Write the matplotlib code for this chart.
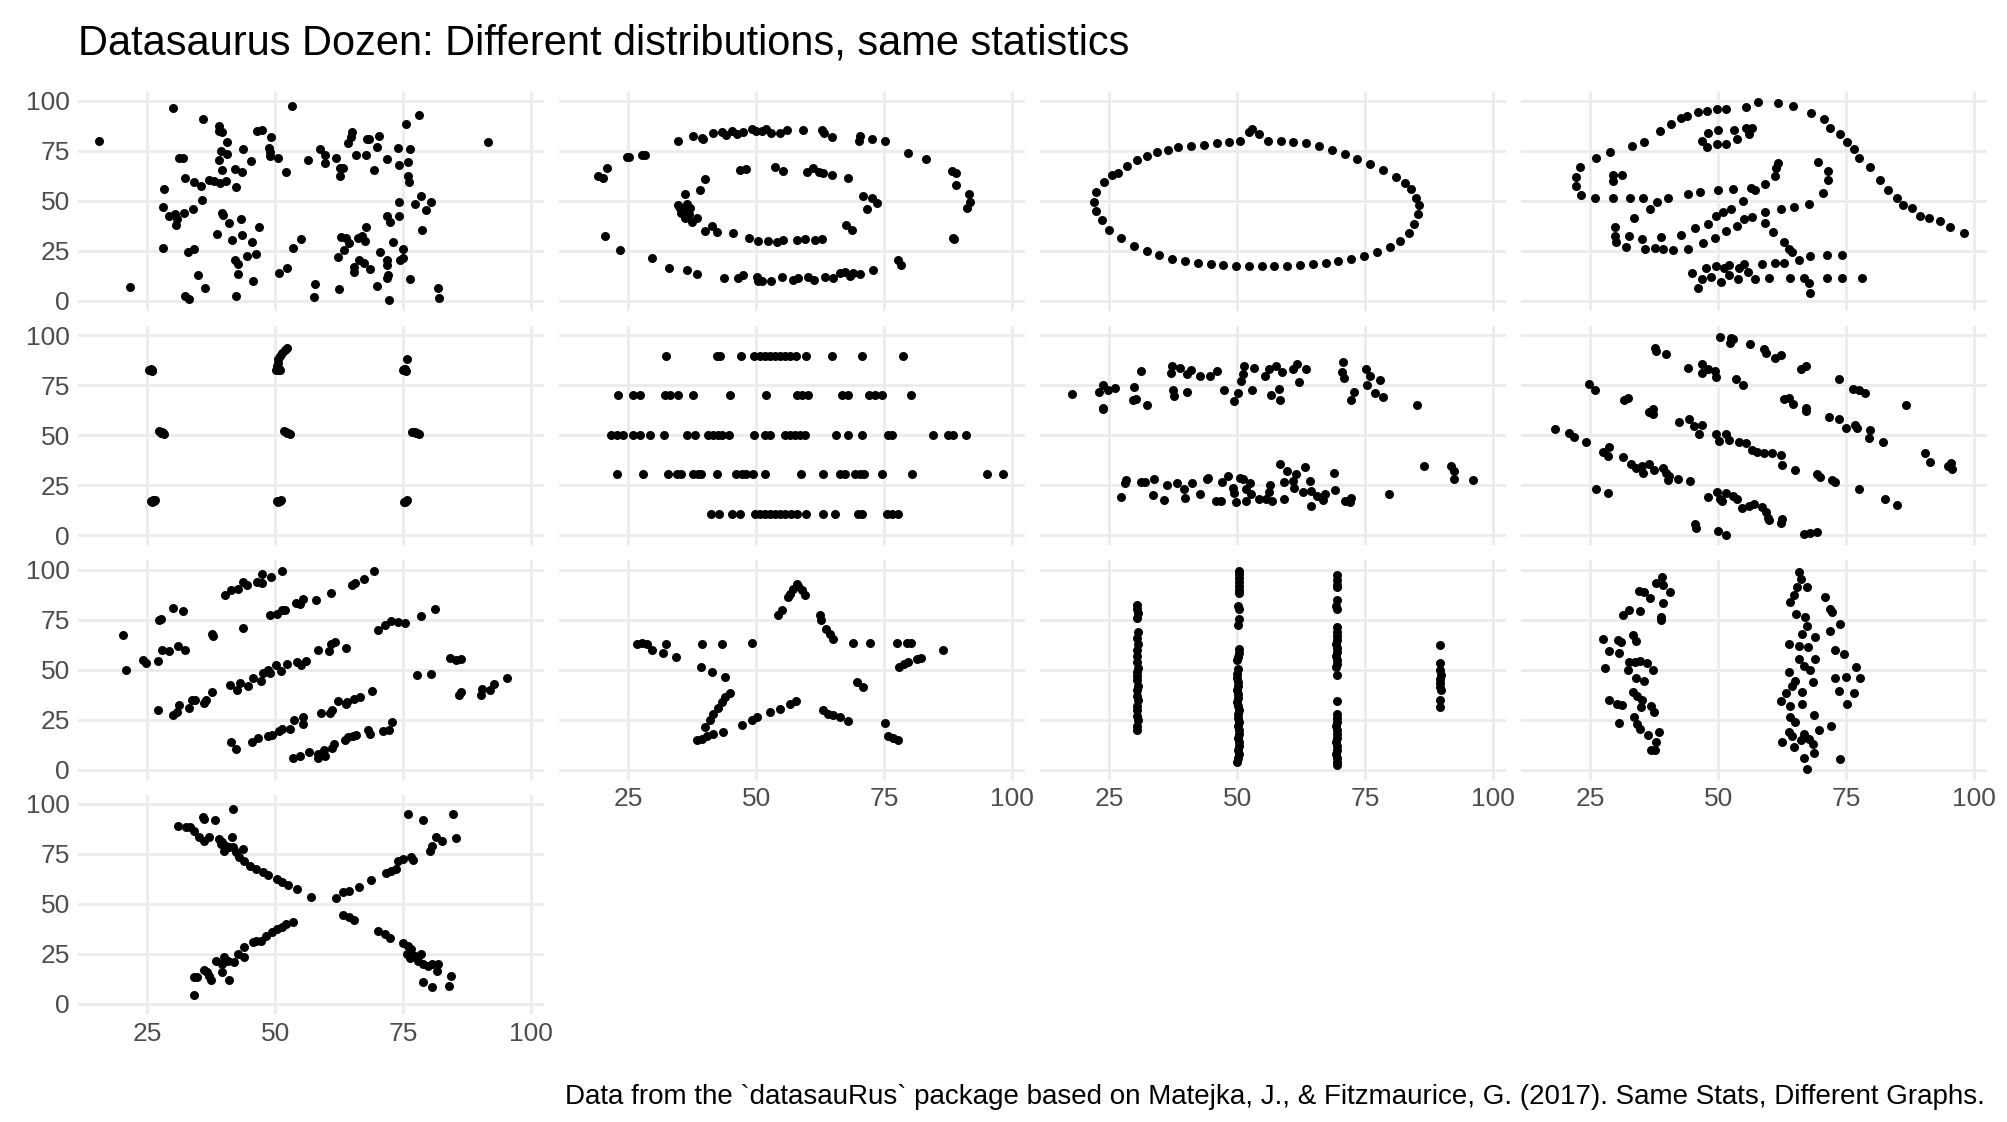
import matplotlib.pyplot as plt

plt.rcParams['font.family'] = ['Liberation Sans', 'DejaVu Sans']

# (x, y) points for each of the thirteen datasets, in facet order
away = [(15.5, 80.0), (21.7, 6.8), (30.0, 96.7), (35.8, 91.2), (39.0, 87.5), (39.1, 85.0), (39.6, 84.3),
        (40.5, 79.3), (39.4, 75.2), (40.6, 73.5), (39.0, 70.5), (39.7, 65.5), (42.1, 66.0), (43.5, 64.3),
        (43.7, 76.2), (45.2, 70.0), (46.4, 85.0), (47.4, 85.3), (49.1, 81.8), (48.8, 76.7), (48.9, 74.7),
        (49.0, 72.7), (50.5, 71.7), (53.2, 97.5), (52.1, 64.5), (56.5, 70.5), (58.8, 76.0), (59.7, 73.2),
        (59.7, 69.2), (61.8, 71.7), (62.7, 66.7), (63.3, 66.3), (62.7, 62.7), (64.3, 78.8), (65.1, 84.7),
        (64.8, 81.8), (65.8, 73.0), (67.7, 72.8), (67.9, 81.0), (68.4, 80.8), (70.3, 82.5), (70.0, 77.0),
        (69.4, 65.5), (71.8, 71.2), (74.1, 76.3), (74.2, 68.0), (76.0, 69.7), (76.3, 76.0), (75.5, 88.3),
        (78.1, 93.0), (76.0, 62.7), (76.2, 59.7), (91.7, 79.3), (28.2, 56.0), (32.3, 61.5), (31.3, 71.7),
        (31.9, 71.7), (34.2, 59.7), (35.6, 57.5), (37.0, 60.5), (38.1, 60.0), (39.2, 59.2), (40.4, 60.0),
        (42.4, 57.0), (35.7, 50.7), (28.0, 46.8), (29.3, 42.3), (30.4, 43.3), (30.9, 41.0), (30.7, 38.0),
        (32.1, 43.8), (33.9, 46.0), (39.6, 44.2), (39.8, 43.0), (40.9, 39.2), (38.6, 33.5), (41.6, 30.5),
        (43.4, 40.8), (43.5, 33.2), (45.4, 29.7), (46.8, 36.8), (46.2, 23.3), (44.5, 22.5), (42.1, 20.5),
        (42.8, 18.3), (42.7, 13.3), (45.6, 10.0), (42.4, 2.7), (28.0, 26.3), (32.9, 24.7), (34.1, 26.0),
        (35.0, 12.8), (36.2, 6.3), (32.3, 2.5), (33.2, 1.0), (50.8, 14.2), (52.4, 16.3), (53.4, 26.5),
        (55.0, 31.0), (57.7, 8.5), (57.5, 2.0), (62.2, 22.2), (62.4, 6.0), (62.9, 32.2), (63.9, 31.3),
        (63.4, 25.5), (64.5, 28.8), (65.5, 14.7), (65.5, 17.2), (66.2, 31.7), (66.9, 32.7), (67.5, 30.0),
        (67.7, 37.2), (66.4, 20.5), (67.4, 18.8), (68.5, 15.8), (70.0, 7.7), (70.4, 24.7), (71.8, 20.5),
        (71.9, 18.0), (72.0, 13.0), (71.8, 11.3), (72.2, 0.5), (71.9, 42.5), (72.5, 39.7), (73.0, 29.7),
        (74.2, 49.3), (74.3, 42.7), (74.5, 20.5), (74.9, 21.3), (74.9, 25.8), (76.3, 10.8), (77.3, 48.5),
        (78.6, 52.7), (79.4, 45.5), (78.8, 35.5), (80.5, 49.7), (81.8, 6.3), (82.1, 1.7)]

bullseye = [(34.7, 80.0), (37.7, 82.7), (39.5, 81.7), (39.7, 80.8), (41.6, 83.8), (43.3, 84.3), (44.1, 83.0),
            (45.2, 85.2), (46.2, 83.7), (47.5, 84.7), (49.1, 85.8), (50.0, 85.0), (51.1, 85.2), (51.9, 86.0),
            (53.0, 83.8), (54.7, 83.8), (56.0, 85.5), (59.1, 85.5), (62.9, 85.5), (63.3, 83.8), (64.9, 82.2),
            (70.3, 82.7), (70.1, 80.2), (72.6, 81.0), (75.2, 80.0), (79.6, 74.0), (83.3, 70.8), (88.2, 65.0),
            (89.1, 64.2), (89.1, 58.0), (91.7, 53.3), (91.8, 49.3), (91.2, 46.7), (88.4, 31.7), (88.6, 30.8),
            (24.7, 71.8), (25.1, 71.8), (27.7, 73.0), (28.3, 73.0), (20.9, 66.3), (19.1, 62.7), (20.1, 61.3),
            (20.4, 32.5), (23.4, 25.7), (29.6, 21.7), (33.0, 16.3), (36.4, 15.5), (38.4, 13.7), (43.7, 11.7),
            (46.5, 11.3), (47.4, 13.0), (50.1, 11.8), (50.4, 10.0), (51.1, 10.0), (53.0, 10.0), (55.0, 11.8),
            (57.3, 10.5), (58.2, 11.7), (60.2, 12.0), (61.4, 10.5), (63.5, 12.0), (65.1, 11.7), (66.4, 13.8),
            (67.4, 14.3), (68.4, 12.7), (69.0, 14.2), (70.3, 13.5), (72.8, 15.5), (77.8, 20.5), (78.3, 18.0),
            (40.0, 60.8), (39.0, 55.5), (36.0, 53.3), (34.8, 48.0), (36.4, 48.3), (37.1, 46.3), (35.4, 43.8),
            (36.1, 41.3), (37.4, 39.7), (38.4, 41.7), (35.8, 45.5), (36.8, 43.5), (35.2, 46.5), (40.0, 35.0),
            (41.4, 37.5), (42.3, 34.7), (45.4, 34.2), (48.7, 31.3), (50.4, 30.0), (52.4, 30.0), (54.0, 29.7),
            (55.3, 30.5), (57.9, 30.5), (59.5, 31.0), (61.5, 30.5), (62.8, 30.8), (67.6, 38.0), (68.7, 35.5),
            (71.6, 46.0), (70.8, 52.7), (72.6, 51.3), (73.6, 48.8), (46.8, 65.5), (48.1, 66.0), (53.7, 66.8),
            (55.3, 65.2), (59.9, 64.7), (61.2, 66.3), (62.2, 64.7), (63.1, 64.2), (64.9, 63.0), (67.9, 61.3)]

circle = [(26.8, 64.1), (28.5, 67.3), (30.5, 70.5), (32.3, 72.4), (34.3, 74.4), (36.5, 75.6), (38.5, 76.9),
          (41.0, 77.6), (43.5, 78.2), (46.0, 78.8), (48.5, 79.5), (50.5, 80.1), (52.3, 84.6), (53.0, 85.9),
          (54.3, 83.3), (56.0, 80.1), (58.5, 80.1), (61.0, 79.5), (63.5, 78.8), (66.0, 77.6), (68.5, 75.6),
          (71.0, 73.7), (73.5, 71.2), (76.0, 68.6), (78.5, 65.4), (81.0, 62.2), (82.8, 59.0), (84.0, 55.8),
          (85.0, 51.3), (85.5, 48.1), (85.3, 43.6), (84.5, 38.5), (83.5, 34.0), (81.8, 30.1), (79.8, 26.9),
          (77.3, 24.4), (74.8, 22.4), (72.3, 21.2), (69.8, 19.9), (67.3, 19.2), (64.8, 18.6), (62.3, 17.9),
          (59.8, 17.3), (57.3, 17.3), (54.8, 17.3), (52.3, 17.3), (49.8, 17.3), (47.3, 17.9), (44.8, 18.6),
          (42.3, 19.2), (39.8, 19.9), (37.3, 21.2), (34.8, 23.1), (32.3, 25.0), (29.8, 27.6), (27.3, 31.4),
          (25.0, 35.3), (23.5, 40.4), (22.5, 44.9), (22.0, 49.4), (22.5, 54.5), (24.0, 59.6), (25.5, 62.8)]

dino = [(23.0, 66.8), (22.2, 62.2), (22.2, 57.7), (23.2, 53.0), (26.0, 51.3), (29.4, 51.3), (32.7, 51.3),
        (35.3, 51.7), (38.1, 49.3), (36.7, 45.8), (33.6, 41.7), (29.9, 37.2), (29.9, 32.7), (30.0, 29.7),
        (32.0, 26.8), (32.6, 32.7), (35.1, 30.8), (35.7, 25.8), (37.7, 26.3), (39.3, 25.8), (41.1, 25.5),
        (38.8, 31.8), (42.7, 33.0), (44.1, 26.0), (40.2, 51.7), (44.1, 53.3), (46.5, 54.7), (49.9, 55.5),
        (53.0, 55.8), (56.5, 56.7), (57.3, 55.5), (59.1, 58.3), (61.2, 62.5), (61.4, 66.3), (61.7, 69.2),
        (26.1, 71.7), (28.9, 74.7), (33.1, 77.7), (35.5, 79.7), (38.7, 85.0), (40.7, 88.3), (42.7, 91.3),
        (44.0, 92.7), (46.1, 94.3), (47.9, 95.0), (49.8, 96.0), (51.5, 96.0), (55.4, 97.2), (57.8, 99.7),
        (61.7, 99.2), (64.7, 97.5), (68.2, 94.0), (70.6, 90.8), (71.9, 86.3), (73.8, 83.3), (75.1, 79.3),
        (76.6, 75.8), (77.6, 71.7), (79.6, 66.8), (81.6, 60.5), (83.2, 55.5), (85.0, 51.3), (86.2, 48.0),
        (87.9, 46.3), (89.5, 42.7), (91.2, 41.7), (93.3, 40.0), (95.3, 37.2), (98.1, 34.2), (29.5, 63.0),
        (31.3, 63.0), (29.5, 60.0), (46.8, 80.0), (47.9, 77.2), (48.1, 84.2), (50.0, 85.5), (49.8, 78.5),
        (51.5, 78.5), (53.1, 85.5), (53.7, 81.0), (55.4, 86.3), (56.7, 86.3), (56.0, 83.3), (69.5, 69.7),
        (71.5, 65.0), (71.5, 60.5), (70.4, 53.8), (67.8, 48.3), (64.8, 46.8), (62.2, 46.0), (59.1, 44.7),
        (56.7, 42.2), (55.0, 41.0), (53.6, 37.7), (51.5, 35.2), (49.4, 31.7), (47.1, 29.2), (54.9, 50.0),
        (52.6, 46.0), (50.9, 44.7), (49.5, 42.5), (48.1, 38.5), (45.4, 36.3), (59.1, 39.2), (60.7, 34.3),
        (62.8, 29.7), (63.8, 26.0), (64.5, 24.7), (65.8, 20.5), (67.9, 22.7), (71.2, 23.0), (74.2, 23.0),
        (62.8, 19.2), (61.2, 19.2), (58.6, 18.3), (55.0, 18.5), (54.1, 16.7), (52.1, 18.0), (51.1, 16.7),
        (49.5, 17.7), (47.6, 16.7), (44.8, 14.2), (46.9, 11.0), (48.7, 12.2), (50.5, 9.7), (52.1, 13.0),
        (53.8, 10.8), (55.9, 14.3), (57.3, 10.8), (59.9, 11.3), (64.1, 11.3), (66.7, 11.3), (67.7, 8.8),
        (68.0, 3.8), (71.3, 11.3), (74.2, 11.3), (78.1, 11.3), (46.1, 6.3)]

dots = [(25.4, 82.8), (25.6, 82.5), (25.9, 82.6), (26.0, 82.3), (25.7, 83.0),
        (27.2, 52.0), (27.6, 51.4), (28.0, 51.0), (28.3, 50.5), (27.9, 51.6),
        (25.8, 17.0), (26.2, 17.4), (26.6, 17.6), (26.0, 16.8), (26.4, 17.2),
        (50.2, 82.8), (50.6, 82.6), (51.0, 82.9), (50.3, 84.5), (50.5, 86.2), (50.6, 88.0),
        (51.0, 89.5), (51.4, 91.0), (51.9, 92.5), (52.3, 93.8), (50.8, 83.3),
        (51.8, 52.0), (52.2, 51.6), (52.6, 51.0), (53.0, 50.5), (52.4, 51.3),
        (50.4, 17.0), (50.8, 17.3), (51.2, 17.4), (50.6, 16.8), (51.0, 17.1),
        (75.0, 82.6), (75.4, 83.0), (75.6, 82.4), (75.8, 88.4), (75.2, 83.4),
        (76.8, 51.8), (77.3, 51.8), (77.8, 51.4), (78.2, 50.6), (77.6, 51.2),
        (75.1, 16.6), (75.5, 17.2), (75.8, 17.4), (75.3, 16.4), (75.6, 16.9)]

h_lines = [(32.4, 89.7), (42.3, 89.7), (42.9, 89.7), (47.0, 89.7), (49.6, 89.7), (50.7, 89.7), (51.7, 89.7),
           (52.7, 89.7), (53.7, 89.7), (54.6, 89.7), (55.6, 89.7), (56.6, 89.7), (57.7, 89.7), (59.7, 89.7),
           (64.8, 89.7), (70.6, 89.7), (78.8, 89.7),
           (22.9, 70.0), (26.0, 70.0), (27.2, 70.0), (32.2, 70.0), (33.2, 70.0), (34.8, 70.0), (37.7, 70.0),
           (44.9, 70.0), (51.9, 70.0), (57.9, 70.0), (58.9, 70.0), (60.2, 70.0), (66.7, 70.0), (68.0, 70.0),
           (72.1, 70.0), (73.2, 70.0), (74.7, 70.0), (80.3, 70.0),
           (21.7, 50.0), (22.7, 50.0), (24.0, 50.0), (26.0, 50.0), (27.2, 50.0), (29.2, 50.0), (32.0, 50.0),
           (36.4, 50.0), (38.0, 50.0), (40.6, 50.0), (41.6, 50.0), (42.6, 50.0), (43.4, 50.0), (44.6, 50.0),
           (49.6, 50.0), (51.8, 50.0), (52.7, 50.0), (55.6, 50.0), (56.6, 50.0), (57.6, 50.0), (58.6, 50.0),
           (59.6, 50.0), (65.7, 50.0), (68.0, 50.0), (70.6, 50.0), (75.8, 50.0), (76.5, 50.0), (84.6, 50.0),
           (87.6, 50.0), (88.5, 50.0), (91.0, 50.0),
           (22.7, 30.5), (27.9, 30.5), (32.8, 30.5), (34.5, 30.5), (35.4, 30.5), (37.6, 30.5), (38.7, 30.5),
           (39.3, 30.5), (42.3, 30.5), (46.1, 30.5), (47.2, 30.5), (48.1, 30.5), (49.4, 30.5), (51.7, 30.5),
           (58.8, 30.5), (63.0, 30.5), (66.4, 30.5), (67.4, 30.5), (69.3, 30.5), (70.3, 30.5), (71.0, 30.5),
           (74.7, 30.5), (80.4, 30.5), (95.2, 30.5), (98.3, 30.5),
           (41.2, 10.5), (42.7, 10.5), (45.2, 10.5), (46.8, 10.5), (49.8, 10.5), (50.8, 10.5), (51.7, 10.5),
           (52.7, 10.5), (53.7, 10.5), (54.7, 10.5), (55.6, 10.5), (56.9, 10.5), (57.9, 10.5), (59.7, 10.5),
           (63.1, 10.5), (65.4, 10.5), (70.0, 10.5), (70.6, 10.5), (75.5, 10.5), (76.5, 10.5), (77.8, 10.5)]

high_lines = [(17.8, 70.5), (23.0, 71.7), (23.8, 75.0), (24.8, 72.7), (26.1, 73.8), (23.8, 63.8), (23.8, 63.0),
              (29.8, 74.2), (29.6, 67.5), (30.2, 68.0), (32.3, 65.2), (31.2, 82.2), (37.2, 84.7), (37.0, 81.3),
              (38.8, 83.5), (40.1, 80.5), (40.9, 82.5), (37.4, 72.5), (37.6, 69.7), (40.1, 71.7), (42.8, 79.7),
              (44.7, 79.7), (46.0, 82.2), (47.4, 72.5), (49.3, 67.2), (50.2, 71.0), (52.9, 72.5), (51.4, 84.7),
              (50.8, 77.2), (51.2, 80.5), (53.3, 83.8), (55.4, 79.7), (56.3, 83.0), (57.6, 84.7), (58.7, 81.7),
              (56.6, 70.0), (58.2, 73.0), (58.3, 67.7), (60.9, 83.0), (61.7, 85.5), (62.1, 76.7), (63.5, 83.0),
              (70.7, 86.7), (70.4, 81.8), (70.8, 78.8), (72.8, 71.8), (72.3, 67.5), (75.1, 83.3), (75.9, 79.7),
              (75.4, 75.2), (78.0, 77.5), (76.9, 71.0), (78.5, 69.3), (85.2, 65.0),
              (28.2, 27.7), (28.1, 26.3), (27.3, 19.2), (31.2, 26.7), (32.0, 26.7), (33.7, 28.3), (33.6, 20.0),
              (35.7, 17.5), (36.3, 25.2), (38.2, 26.3), (39.6, 23.0), (39.8, 18.5), (41.2, 26.3), (42.8, 20.5),
              (44.1, 28.3), (44.3, 28.8), (45.8, 17.2), (46.9, 17.2), (47.1, 26.8), (48.2, 29.7), (49.1, 23.5),
              (49.3, 21.3), (49.7, 16.7), (50.5, 28.8), (51.2, 28.0), (51.7, 23.0), (51.8, 17.2), (52.5, 26.3),
              (52.8, 20.5), (54.3, 18.3), (55.7, 18.0), (56.5, 25.2), (56.9, 17.2), (56.3, 21.7), (58.3, 35.5),
              (59.8, 32.2), (59.1, 26.7), (60.9, 27.2), (61.6, 30.5), (61.1, 23.8), (63.2, 34.2), (62.9, 21.7),
              (64.2, 27.2), (64.5, 22.2), (64.5, 14.7), (65.6, 19.7), (66.8, 17.5), (67.1, 20.5), (59.1, 18.0),
              (68.9, 31.3), (69.2, 22.7), (71.0, 17.2), (72.3, 18.8), (72.1, 16.7), (79.7, 20.5), (86.5, 34.7),
              (91.9, 34.7), (92.4, 32.2), (92.4, 28.0), (96.1, 27.7)]

slant_down = [(50.3, 99.3), (52.6, 98.8), (52.4, 96.3), (52.9, 98.0), (56.3, 95.8), (58.9, 93.0), (59.3, 91.0),
              (61.2, 88.8), (62.2, 90.2), (66.1, 83.3), (67.1, 84.7), (73.6, 78.0), (76.3, 73.0), (77.5, 72.5),
              (78.8, 71.3), (86.7, 65.0),
              (37.7, 93.8), (37.8, 92.2), (39.9, 90.5), (44.1, 83.5), (46.8, 85.5), (46.8, 81.3), (48.1, 83.0),
              (49.4, 82.2), (49.5, 79.3), (53.4, 78.3), (54.8, 75.0), (62.8, 68.0), (63.9, 68.5), (64.6, 65.5),
              (67.1, 63.8), (67.2, 62.2), (71.7, 59.2), (73.7, 58.3), (75.0, 53.8), (76.8, 55.0), (77.1, 53.8),
              (79.6, 52.7), (79.4, 48.8), (82.2, 46.7), (90.5, 41.3), (91.5, 36.7), (94.9, 34.7), (95.5, 36.3),
              (95.7, 33.0),
              (24.8, 75.8), (26.0, 72.7), (31.6, 67.7), (32.3, 68.8), (36.4, 61.8), (37.3, 63.3), (37.2, 60.5),
              (42.4, 56.7), (44.3, 58.0), (45.3, 54.7), (46.8, 55.0), (46.3, 50.5), (49.5, 50.5), (50.2, 47.2),
              (51.5, 50.5), (52.1, 47.7), (54.1, 46.7), (55.4, 46.0), (56.7, 42.5), (57.6, 41.7), (58.9, 41.0),
              (60.6, 41.3), (62.2, 40.0), (62.4, 35.2), (65.1, 32.7), (69.3, 30.5), (70.0, 29.3), (72.3, 27.7),
              (72.8, 26.7),
              (18.2, 53.3), (20.8, 51.3), (21.9, 49.3), (24.2, 46.8), (27.4, 41.8), (28.6, 44.2), (28.4, 39.7),
              (31.4, 39.3), (32.9, 35.8), (34.0, 33.8), (35.2, 34.7), (35.3, 31.3), (36.5, 35.8), (37.5, 32.7),
              (39.2, 33.8), (39.8, 31.3), (40.1, 27.5), (40.4, 29.7), (42.2, 28.3), (44.4, 27.0), (77.6, 23.3),
              (82.7, 18.3), (84.9, 15.0),
              (26.1, 23.0), (28.4, 21.3), (48.1, 19.3), (49.8, 21.7), (50.3, 18.3), (50.8, 17.2), (51.5, 21.0),
              (52.9, 19.7), (53.7, 18.0), (54.7, 13.8), (56.0, 14.7), (57.0, 15.5), (58.6, 14.3), (59.3, 11.7),
              (59.8, 8.8), (60.0, 7.7), (62.4, 8.0), (62.2, 6.3), (45.4, 5.5), (45.6, 3.8), (50.0, 2.2),
              (51.5, 0.0), (66.7, 0.5), (68.0, 1.3), (69.3, 1.7)]

slant_up = [(40.1, 87.2), (41.4, 90.0), (42.7, 90.2), (43.7, 93.8), (44.5, 92.5), (46.4, 93.8), (47.4, 93.5),
            (47.4, 98.0), (49.1, 96.3), (51.3, 99.2),
            (20.2, 67.2), (20.9, 49.7), (24.2, 54.7), (24.7, 53.3), (27.1, 54.3), (27.8, 60.0), (29.2, 59.3),
            (30.0, 81.0), (31.0, 61.7), (31.9, 79.3), (32.3, 59.7), (27.2, 74.7), (27.6, 75.5), (37.6, 68.0),
            (37.8, 66.7), (43.7, 71.0), (49.0, 77.2), (50.3, 77.7), (51.3, 79.7), (52.0, 80.0), (54.0, 83.3),
            (54.8, 82.7), (55.5, 85.5), (57.9, 85.0), (61.0, 88.3), (65.1, 92.2), (65.7, 93.3), (67.4, 95.5),
            (69.3, 99.3),
            (27.1, 29.7), (30.0, 27.2), (30.8, 28.8), (31.3, 32.2), (33.1, 31.0), (33.8, 34.7), (34.3, 34.7),
            (36.1, 33.3), (36.4, 35.0), (37.6, 38.8), (41.1, 42.2), (42.6, 40.0), (43.2, 43.5), (44.7, 41.7),
            (45.7, 46.0), (47.2, 44.2), (47.6, 48.3), (48.7, 49.7), (49.0, 48.3), (50.1, 52.2), (51.1, 49.3),
            (52.3, 52.7), (54.3, 53.8), (55.0, 52.2), (56.0, 54.3), (58.3, 60.0), (60.6, 59.3), (60.9, 63.0),
            (61.7, 63.8), (63.8, 60.8), (70.2, 70.0), (71.5, 72.5), (72.6, 74.3), (74.1, 73.8), (75.3, 73.5),
            (78.6, 76.7), (81.3, 80.5),
            (77.8, 47.2), (80.4, 47.7), (84.1, 56.0), (85.4, 55.0), (86.4, 55.5), (85.9, 37.2), (86.4, 38.8),
            (90.3, 37.5), (90.5, 40.5), (92.0, 39.7), (92.7, 43.0), (95.3, 45.8),
            (41.4, 13.8), (42.4, 10.5), (45.4, 13.8), (46.7, 15.8), (48.7, 16.7), (49.3, 17.2), (50.7, 19.2),
            (51.3, 20.2), (53.0, 20.5), (53.6, 24.7), (55.5, 26.3), (55.5, 22.7), (58.9, 28.3), (60.8, 28.3),
            (61.2, 29.7), (62.2, 34.3), (63.9, 32.7), (64.1, 33.8), (65.5, 35.2), (66.5, 36.3), (68.9, 39.3),
            (53.5, 5.8), (54.8, 6.7), (56.6, 8.8), (58.3, 5.8), (58.3, 8.0), (59.3, 7.2), (59.6, 10.0),
            (59.8, 6.7), (61.2, 11.0), (61.6, 13.0), (63.7, 14.7), (64.2, 16.3), (65.2, 16.7), (65.9, 17.2),
            (68.2, 20.0), (68.5, 18.0), (71.0, 19.3), (72.2, 20.0), (72.8, 23.8)]

star = [(57.9, 92.7), (58.2, 91.8), (57.3, 90.5), (56.6, 88.0), (56.3, 86.3), (59.6, 87.2), (58.9, 89.7),
        (55.1, 79.7), (54.3, 77.5), (62.4, 77.5), (62.6, 74.7), (63.7, 70.5), (64.5, 67.7), (65.0, 65.5),
        (69.0, 63.3), (72.3, 63.3), (77.5, 63.3), (79.4, 63.3), (80.2, 63.3), (86.6, 59.7), (82.2, 56.0),
        (81.4, 55.5), (79.6, 53.8), (78.9, 52.7), (78.0, 51.3), (69.7, 43.8), (70.9, 41.3), (75.2, 23.5),
        (75.8, 16.7), (76.8, 16.0), (77.8, 15.0), (63.0, 30.0), (64.1, 28.0), (65.1, 27.2), (66.4, 26.3),
        (68.0, 24.3), (57.8, 34.2), (56.6, 32.7), (54.7, 30.5), (52.8, 28.8), (50.1, 26.3), (49.1, 25.0),
        (47.2, 22.2), (38.4, 14.7), (39.4, 15.5), (40.3, 16.7), (41.6, 18.0), (43.6, 18.8), (40.0, 21.3),
        (41.0, 24.7), (41.6, 27.7), (42.6, 31.0), (43.3, 33.8), (43.9, 36.3), (44.9, 38.3), (44.0, 46.3),
        (41.4, 48.8), (39.3, 51.3), (26.8, 63.0), (27.6, 63.3), (28.6, 62.7), (29.6, 60.0), (31.7, 58.3),
        (32.4, 63.0), (34.3, 56.3), (39.5, 62.7), (43.3, 63.0), (49.1, 63.5)]

v_lines = [(30.5, 82.2), (30.5, 80.5), (30.6, 78.3), (30.5, 76.0), (30.6, 68.8), (30.5, 66.0), (30.6, 63.0),
           (30.5, 60.0), (30.4, 57.0), (30.5, 54.0), (30.6, 51.0), (30.5, 49.0), (30.4, 47.0), (30.5, 45.0),
           (30.6, 42.0), (30.5, 40.0), (30.5, 37.0), (30.6, 35.0), (30.5, 32.0), (30.4, 30.0), (30.5, 27.0),
           (30.6, 25.0), (30.5, 22.0), (30.5, 19.7),
           (50.3, 99.5), (50.4, 98.0), (50.3, 96.0), (50.4, 94.0), (50.3, 92.0), (50.4, 90.0), (50.3, 88.5),
           (50.2, 82.0), (50.3, 80.5), (50.3, 75.5), (50.2, 72.2), (50.4, 60.5), (50.3, 58.5), (50.1, 56.5),
           (50.0, 54.7), (50.2, 50.5), (50.0, 48.0), (49.9, 46.0), (50.1, 44.0), (50.2, 42.0), (50.0, 40.0),
           (50.1, 38.0), (50.2, 36.0), (50.0, 34.0), (50.1, 32.0), (50.3, 30.0), (50.2, 28.0), (50.1, 26.0),
           (50.3, 24.0), (50.2, 22.0), (50.4, 20.0), (50.3, 18.0), (50.2, 16.0), (50.4, 14.0), (50.3, 12.0),
           (50.2, 10.0), (50.3, 8.0), (50.1, 6.0), (50.0, 3.8),
           (69.5, 97.2), (69.6, 95.0), (69.5, 92.5), (69.6, 91.3), (69.5, 84.7), (69.4, 82.0), (69.5, 80.5),
           (69.6, 71.3), (69.5, 69.0), (69.6, 67.0), (69.5, 65.0), (69.4, 63.0), (69.6, 61.0), (69.5, 59.0),
           (69.4, 57.0), (69.6, 55.0), (69.5, 53.0), (69.4, 51.3), (69.5, 47.2), (69.6, 34.2), (69.5, 28.0),
           (69.6, 26.0), (69.5, 24.0), (69.4, 22.0), (69.5, 20.0), (69.6, 18.0), (69.5, 16.0), (69.4, 14.0),
           (69.6, 12.0), (69.5, 10.0), (69.4, 8.0), (69.6, 6.0), (69.5, 4.0), (69.6, 2.2),
           (89.7, 62.2), (89.6, 53.3), (89.7, 49.7), (89.8, 47.5), (89.7, 45.5), (89.6, 43.5), (89.7, 41.5),
           (89.8, 39.7), (89.7, 34.7), (89.7, 31.3)]

wide_lines = [(39.0, 96.3), (37.8, 93.3), (39.2, 92.2), (40.6, 88.8), (34.6, 89.3), (35.5, 88.8), (36.6, 85.8),
              (39.2, 83.3), (32.5, 80.0), (31.4, 77.2), (34.7, 79.3), (38.8, 76.3), (38.8, 74.7), (27.4, 65.5),
              (30.5, 65.0), (31.0, 63.8), (33.3, 67.2), (33.9, 64.2), (28.7, 59.3), (30.7, 58.5), (27.9, 51.0),
              (32.6, 53.8), (32.3, 50.0), (33.8, 53.8), (34.8, 54.3), (36.0, 53.3), (37.2, 49.7), (33.9, 46.0),
              (35.5, 44.3), (33.3, 38.8), (34.2, 36.7), (35.1, 34.7), (34.9, 31.3), (36.8, 31.7), (37.5, 28.8),
              (28.6, 34.7), (30.3, 32.7), (31.3, 32.2), (33.6, 26.3), (34.2, 23.0), (34.7, 20.5), (30.7, 23.3),
              (36.2, 17.2), (38.5, 18.8), (37.8, 13.8), (36.8, 9.7), (37.7, 9.7),
              (65.8, 98.8), (66.1, 95.5), (65.4, 91.3), (67.4, 91.3), (64.8, 87.2), (64.1, 83.8), (70.8, 86.3),
              (71.9, 80.5), (72.3, 78.8), (65.2, 77.7), (66.9, 76.3), (67.3, 71.7), (73.9, 72.7), (71.9, 69.3),
              (66.4, 67.7), (68.9, 66.3), (63.8, 63.0), (65.8, 61.7), (67.6, 61.3), (72.9, 59.7), (74.7, 57.7),
              (65.8, 55.5), (69.0, 55.2), (66.7, 51.7), (68.0, 50.0), (63.8, 48.8), (77.0, 51.3), (72.9, 46.0),
              (74.9, 46.3), (77.8, 46.0), (65.1, 44.3), (68.5, 43.8), (64.5, 41.7), (63.2, 38.3), (66.3, 38.8),
              (73.6, 39.3), (76.5, 38.3), (75.2, 33.0), (62.2, 34.2), (64.1, 31.7), (66.3, 33.0), (68.7, 27.2),
              (64.1, 26.3), (65.1, 23.8), (72.1, 21.8), (69.7, 20.0), (63.8, 18.8), (66.7, 18.0), (62.5, 13.8),
              (64.8, 11.3), (67.7, 15.5), (68.5, 13.0), (66.7, 6.0), (68.7, 8.5), (73.9, 5.5), (67.3, 0.5),
              (66.1, 14.7), (64.5, 16.7)]

x_shape = [(31.0, 89.2), (32.5, 88.3), (33.4, 88.3), (34.1, 86.7), (35.1, 83.3), (36.1, 81.7), (37.1, 83.3),
           (39.1, 82.5), (39.7, 80.8), (40.4, 79.2), (41.0, 78.3), (41.7, 78.3), (42.3, 75.8), (43.0, 73.3),
           (44.0, 71.7), (45.0, 69.2), (46.3, 67.5), (47.6, 65.8), (48.6, 64.7), (50.3, 62.5), (51.3, 60.8),
           (52.6, 59.7), (54.2, 57.5), (57.0, 53.7), (35.8, 93.7), (36.1, 92.5), (38.3, 92.2), (41.7, 97.5),
           (41.6, 83.7), (43.7, 77.5), (39.4, 80.0), (40.0, 76.7),
           (61.8, 52.8), (63.3, 44.7), (64.4, 43.3), (65.4, 42.0), (70.1, 36.3), (71.4, 35.0), (72.4, 33.0),
           (75.0, 30.3), (76.0, 29.2), (76.6, 27.5), (75.7, 25.0), (76.3, 23.0), (77.3, 24.2), (78.6, 25.0),
           (78.0, 21.7), (79.0, 20.0), (79.9, 19.2), (80.6, 20.0), (81.6, 16.3), (81.9, 20.0), (79.0, 10.8),
           (80.6, 8.3), (83.9, 8.8), (84.4, 14.2),
           (63.3, 55.8), (64.4, 56.7), (66.4, 58.7), (68.7, 62.0), (71.7, 65.3), (72.7, 66.3), (73.7, 67.5),
           (74.0, 71.7), (75.0, 72.5), (77.0, 72.0), (76.6, 73.3), (80.3, 76.7), (80.6, 79.2), (81.4, 83.7),
           (82.6, 81.7), (76.0, 95.0), (79.0, 92.2), (84.7, 95.0), (85.4, 83.0),
           (34.1, 4.5), (34.1, 13.3), (34.8, 13.7), (36.1, 17.0), (36.7, 15.8), (37.1, 14.2), (37.4, 12.0),
           (38.4, 21.7), (39.7, 20.0), (39.7, 15.8), (40.0, 23.3), (40.7, 21.7), (40.9, 12.2), (42.0, 20.8),
           (42.7, 25.0), (44.0, 23.3), (44.0, 28.3), (45.6, 30.8), (46.3, 31.3), (47.3, 31.7), (48.3, 34.2),
           (49.3, 35.8), (50.3, 37.5), (51.3, 38.7), (52.2, 40.0), (53.4, 40.8)]

panels = [away, bullseye, circle, dino, dots, h_lines, high_lines, slant_down,
          slant_up, star, v_lines, wide_lines, x_shape]

x_ticks = [25, 50, 75, 100]
y_ticks = [0, 25, 50, 75, 100]

title = "Datasaurus Dozen: Different distributions, same statistics"
caption = ("Data from the `datasauRus` package based on Matejka, J., & Fitzmaurice, G. (2017). "
           "Same Stats, Different Graphs.")

W, H = 2008, 1122
fig = plt.figure(figsize=(W / 100, H / 100), dpi=100)
fig.patch.set_facecolor('white')

# facet layout in pixels: 4 columns, panels filled row by row
left0, top0 = 77.7, 91.6
pw, ph = 466, 219.4
step_x, step_y = 481, 234.3

for i, pts in enumerate(panels):
    row, col = divmod(i, 4)
    left = left0 + col * step_x
    top = top0 + row * step_y
    ax = fig.add_axes([left / W, 1 - (top + ph) / H, pw / W, ph / H])
    xs = [p[0] for p in pts]
    ys = [p[1] for p in pts]
    ax.scatter(xs, ys, s=42, c='black', linewidths=0, zorder=3)
    ax.set_xlim(11.4, 102.5)
    ax.set_ylim(-5, 104.7)
    ax.set_xticks(x_ticks)
    ax.set_yticks(y_ticks)
    ax.grid(True, color='#ebebeb', linewidth=2.0)
    ax.set_axisbelow(True)
    for s in ax.spines.values():
        s.set_visible(False)
    ax.tick_params(length=0, labelsize=19, labelcolor='#4d4d4d')
    ax.tick_params(axis='x', pad=5.5)
    ax.tick_params(axis='y', pad=5.5)
    if col != 0:
        ax.tick_params(labelleft=False)
    if i + 4 < len(panels):  # another panel sits below this one
        ax.tick_params(labelbottom=False)

fig.text(78 / W, 1 - 54 / H, title, fontsize=29.9, ha='left', va='baseline')
fig.text(1985 / W, 1 - 1104 / H, caption, fontsize=20, ha='right', va='baseline')

fig.savefig('out.png', dpi=100)
